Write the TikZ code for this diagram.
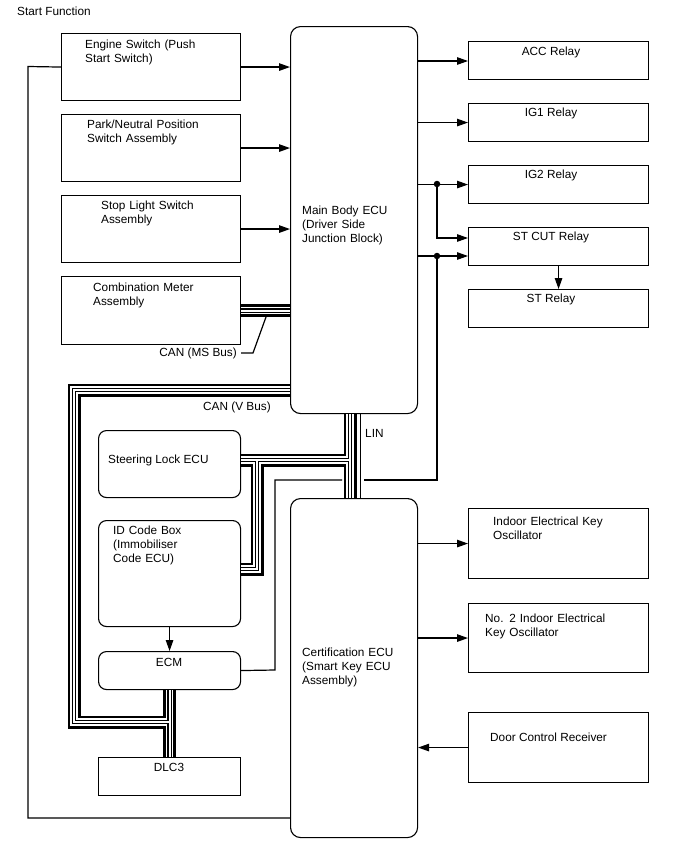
\documentclass[tikz,border=0pt]{standalone}
\usepackage{fontspec}
\setmainfont{Liberation Sans}
\usetikzlibrary{arrows.meta}
\newcommand\canbus[1]{%
  \draw[line width=13pt] #1;
  \draw[line width=7.6pt,white] #1;
  \draw[line width=4.4pt] #1;
  \draw[line width=2pt,white] #1;}
\begin{document}
\begin{tikzpicture}[x=1pt,y=-1pt,
  box/.style={draw, line width=1.1pt, inner sep=0pt, anchor=north west},
  rbox/.style={box, rounded corners=8pt},
  txt/.style={inner sep=0pt, font=\fontsize{11.8}{14}\selectfont, anchor=base west},
  mtxt/.style={txt, text width=170pt, align=left},
  ctxt/.style={inner sep=0pt, font=\fontsize{11.8}{14}\selectfont, anchor=base},
  wire/.style={line width=1.2pt},
  arr/.style={wire, -{Triangle[length=11pt,width=7.5pt]}},
  jdot/.style={circle, fill, inner sep=0pt, minimum size=6.5pt}]
\useasboundingbox[fill=white] (0,0) rectangle (688,852);

% left boxes
\node[box, minimum width=179pt, minimum height=67pt] (eng) at (61,33) {};
\node[box, minimum width=179pt, minimum height=67pt] (pnp) at (61,114) {};
\node[box, minimum width=179pt, minimum height=67pt] (stp) at (61,195) {};
\node[box, minimum width=179pt, minimum height=68pt] (cmb) at (61,276) {};
% ECUs
\node[rbox, rounded corners=10pt, minimum width=127pt, minimum height=387pt] (mb) at (290,26) {};
\node[rbox, rounded corners=10pt, minimum width=127pt, minimum height=339pt] (cert) at (290,498) {};
\node[rbox, minimum width=142pt, minimum height=67pt] (sl) at (98,430) {};
\node[rbox, minimum width=142pt, minimum height=106pt] (idc) at (98,520) {};
\node[rbox, minimum width=142pt, minimum height=38pt] (ecm) at (98,651) {};
\node[box, minimum width=142pt, minimum height=38pt] (dlc) at (98,757) {};
% right boxes
\node[box, minimum width=180pt, minimum height=38pt] (acc) at (468,41) {};
\node[box, minimum width=180pt, minimum height=38pt] (ig1) at (468,103) {};
\node[box, minimum width=180pt, minimum height=38pt] (ig2) at (468,165) {};
\node[box, minimum width=180pt, minimum height=38pt] (stc) at (468,227) {};
\node[box, minimum width=180pt, minimum height=38pt] (st) at (468,289) {};
\node[box, minimum width=180pt, minimum height=70pt] (ind) at (468,508) {};
\node[box, minimum width=180pt, minimum height=69pt] (ind2) at (468,603) {};
\node[box, minimum width=180pt, minimum height=70pt] (dcr) at (468,712) {};

% texts
\node[txt] (title) at (17,15) {Start Function};
\node[mtxt] (t-eng) at (85,48) {Engine Switch (Push\\Start Switch)};
\node[mtxt] (t-pnp) at (87,128) {Park/Neutral Position\\Switch Assembly};
\node[mtxt] (t-stp) at (101,209) {Stop Light Switch\\Assembly};
\node[mtxt] (t-cmb) at (93,291) {Combination Meter\\Assembly};
\node[mtxt] (t-mb) at (302,214) {Main Body ECU\\(Driver Side\\Junction Block)};
\node[txt] (t-sl) at (108,463) {Steering Lock ECU};
\node[mtxt] (t-idc) at (113,534) {ID Code Box\\(Immobiliser\\Code ECU)};
\node[ctxt] (t-ecm) at (169,666) {ECM};
\node[ctxt] (t-dlc) at (169,771) {DLC3};
\node[mtxt] (t-cert) at (302,656) {Certification ECU\\(Smart Key ECU\\Assembly)};
\node[mtxt] (t-ind) at (493,525) {Indoor Electrical Key\\Oscillator};
\node[mtxt] (t-ind2) at (485,622) {No. 2 Indoor Electrical\\Key Oscillator};
\node[txt] (t-dcr) at (490,741) {Door Control Receiver};
\node[ctxt] (t-acc) at (551,55) {ACC Relay};
\node[ctxt] (t-ig1) at (551,116) {IG1 Relay};
\node[ctxt] (t-ig2) at (551,178) {IG2 Relay};
\node[ctxt] (t-stc) at (551,240) {ST CUT Relay};
\node[ctxt] (t-st) at (551,302) {ST Relay};
\node[txt, anchor=base east] (t-ms) at (237,356) {CAN (MS Bus)};
\node[txt] (t-v) at (203,410) {CAN (V Bus)};
\node[txt] (t-lin) at (365,437) {LIN};

% buses
\canbus{(cmb.east |- 0,310.5) -- (mb.west |- 0,310.5)}
\canbus{(mb.west |- 0,390) -- (74,390) -- (74,722) -- (169,722)
        (ecm.south) -- (dlc.north)
        (mb.south -| 350,0) -- (cert.north -| 350,0)
        (350,460) -- (sl.east |- 0,460)
        (257,460) -- (257,569) -- (idc.east |- 0,569)}
\draw[wire] (mb.south -| 360.5,0) -- (cert.north -| 360.5,0);
% CAN MS leader
\coordinate (msl) at (253,353);
\draw[wire] (t-ms.east |- msl) ++(4,0) -- (msl) -- (266,317);

% inputs to main body
\draw[arr] (eng.east) -- (mb.west |- eng.east);
\draw[arr] (pnp.east) -- (mb.west |- pnp.east);
\draw[arr] (stp.east) -- (mb.west |- stp.east);
% outputs
\draw[arr] (mb.east |- 0,61) -- (acc.west |- 0,61);
\draw[arr] (mb.east |- ig1.west) -- (ig1.west);
\draw[arr] (mb.east |- ig2.west) -- (ig2.west);
\node[jdot] (d1) at (437,184) {};
\draw[arr] (d1.center) -- (437,238) -- (stc.west |- 0,238);
\draw[arr] (mb.east |- 0,256) -- (stc.west |- 0,256);
\node[jdot] (d2) at (437,256) {};
\draw[arr] (stc.south) -- (st.north);
% ST CUT signal to ECM (crossing the bus with a gap)
\coordinate (gapR) at (364,480);
\coordinate (gapL) at (342,480);
\draw[wire] (d2.center) -- (437,480) -- (gapR);
\draw[wire] (gapL) -- (275,480) -- (275,670) -- (ecm.east);
% ID code -> ECM
\draw[arr] (idc.south) -- (ecm.north);
% certification ECU
\draw[arr] (cert.east |- ind.west) -- (ind.west);
\draw[arr] (cert.east |- ind2.west) -- (ind2.west);
\draw[arr] (dcr.west) -- (cert.east |- dcr.west);
% engine switch to certification ECU
\draw[wire] (eng.west) -- (28,66.5) -- (28,818) -- (cert.west |- 0,818);
\end{tikzpicture}
\end{document}
